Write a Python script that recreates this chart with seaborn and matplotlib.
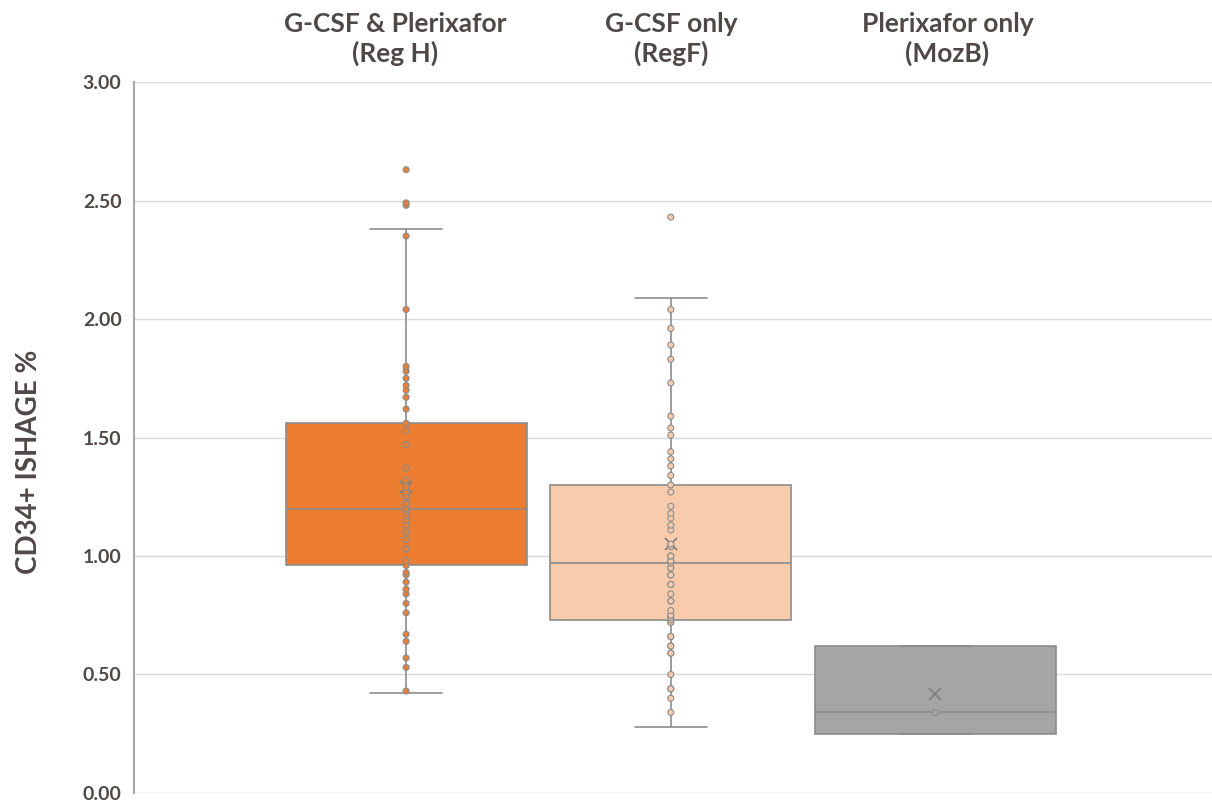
import numpy as np
import pandas as pd
import matplotlib.pyplot as plt
import seaborn as sns

# ── Datos ──────────────────────────────────────────────────────────
grupos = ['G-CSF & Plerixafor\n(Reg H)', 'G-CSF only\n(RegF)', 'Plerixafor only\n(MozB)']

reg_h = [0.42, 0.43, 0.53, 0.57, 0.64, 0.67, 0.76, 0.80, 0.84, 0.86, 0.89, 0.92, 0.93,
         0.96,
         0.98, 1.03, 1.03, 1.07, 1.10, 1.10, 1.13, 1.15, 1.15, 1.17, 1.19, 1.19,
         1.20,
         1.22, 1.22, 1.22, 1.25, 1.25, 1.25, 1.27, 1.29, 1.32, 1.37, 1.47, 1.53,
         1.56,
         1.62, 1.67, 1.70, 1.72, 1.75, 1.78, 1.80, 2.04, 2.35, 2.38, 2.48, 2.49, 2.63]

reg_f = [0.28, 0.34, 0.40, 0.44, 0.44, 0.50, 0.59, 0.59, 0.62, 0.62, 0.66, 0.66, 0.72, 0.72,
         0.73,
         0.74, 0.75, 0.75, 0.77, 0.81, 0.81, 0.84, 0.88, 0.88, 0.92, 0.92, 0.95, 0.95,
         0.97,
         0.98, 0.98, 1.00, 1.00, 1.04, 1.04, 1.05, 1.11, 1.13, 1.16, 1.18, 1.21, 1.27,
         1.30,
         1.34, 1.38, 1.41, 1.44, 1.51, 1.54, 1.59, 1.73, 1.83, 1.89, 1.96, 2.04, 2.09, 2.43]

mozb = [0.25, 0.25, 0.34, 0.62, 0.62]

yticks = [0.0, 0.5, 1.0, 1.5, 2.0, 2.5, 3.0]

COLORS = ['#ED7D31', '#F8CBAD', '#A5A5A5']
EDGE = '#8C8C8C'
TEXT = '#4F4848'
WHIS = 1.45

series = [reg_h, reg_f, mozb]
df = pd.DataFrame({'grupo': np.repeat(grupos, [len(s) for s in series]),
                   'valor': np.concatenate(series)})


# puntos visibles: todos menos los extremos de los bigotes (como Excel)
def puntos_visibles(v):
    v = np.asarray(v)
    q1, q3 = np.percentile(v, [25, 75])
    iqr = q3 - q1
    dentro = v[(v >= q1 - WHIS * iqr) & (v <= q3 + WHIS * iqr)]
    return v[(v != dentro.min()) & (v != dentro.max())]


pts = [puntos_visibles(s) for s in series]
df_pts = pd.DataFrame({'grupo': np.repeat(grupos, [len(p) for p in pts]),
                       'valor': np.concatenate(pts)})

# ── Estilo ─────────────────────────────────────────────────────────
sns.set_theme(style='white')
plt.rcParams['font.family'] = ['Lato', 'DejaVu Sans']

fig = plt.figure(figsize=(12.12, 8.01), dpi=100)
ax = fig.add_axes([0.1106, 0.01, 0.8894, 0.8876])

box_kw = dict(data=df, x='grupo', y='valor', hue='grupo', order=grupos,
              hue_order=grupos, palette=COLORS, saturation=1, width=0.91,
              whis=WHIS, showfliers=False, showmeans=True, linecolor=EDGE,
              linewidth=1.2, legend=False, ax=ax,
              meanprops=dict(marker='x', markeredgecolor='#808080',
                             markersize=8, markeredgewidth=1.3))
try:
    sns.boxplot(capwidths=0.27, **box_kw)
except TypeError:
    sns.boxplot(**box_kw)

sns.stripplot(data=df_pts, x='grupo', y='valor', hue='grupo', order=grupos,
              hue_order=grupos, palette=COLORS, jitter=False, size=4.3,
              edgecolor=EDGE, linewidth=0.8, legend=False, ax=ax, zorder=4)

# ── Ejes ───────────────────────────────────────────────────────────
ax.set_xlim(-1.028, 3.045)
ax.set_ylim(0, 3)
ax.set_yticks(yticks)
ax.set_yticklabels([f'{t:.2f}' for t in yticks], fontsize=14,
                   fontweight='bold', color=TEXT)
ax.tick_params(axis='y', length=0, pad=9)
ax.set_xticks([])
ax.set_xlabel('')
ax.yaxis.grid(True, color='#D9D9D9', linewidth=1)
ax.set_axisbelow(True)
for s in ['top', 'right', 'bottom']:
    ax.spines[s].set_visible(False)
ax.spines['left'].set_color('#A6A6A6')
ax.spines['left'].set_linewidth(1.5)

ax.set_ylabel('CD34+ ISHAGE %', fontsize=20, fontweight='bold', color=TEXT)
ax.yaxis.set_label_coords(-0.085, 0.4655)

# etiquetas de grupo arriba
for i, (g, dx) in enumerate(zip(grupos, [-0.04, 0.0, 0.045])):
    ax.text(i + dx, 1.0605, g, transform=ax.get_xaxis_transform(),
            ha='center', va='center', fontsize=19, fontweight='bold',
            color=TEXT, linespacing=1.25)

fig.savefig('out.png', dpi=100)
